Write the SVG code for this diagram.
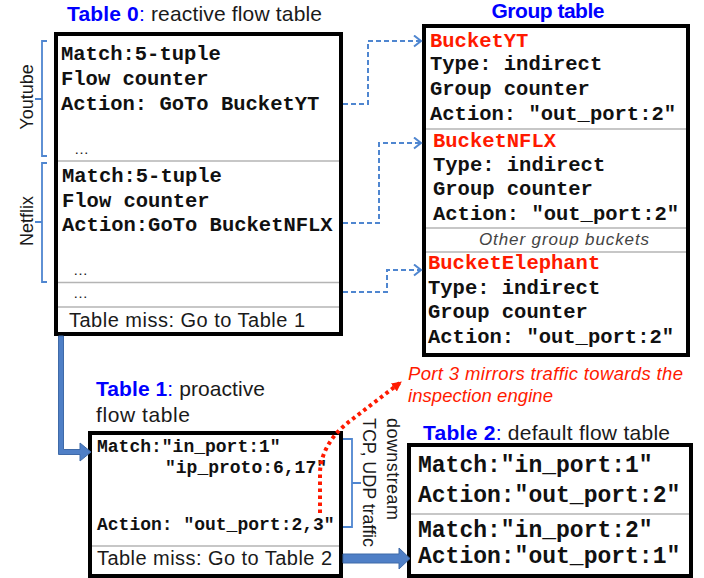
<svg xmlns="http://www.w3.org/2000/svg" width="704" height="578" viewBox="0 0 704 578">
<style>
.box{fill:#fff;stroke:#000;stroke-width:4}
.div{stroke:#b4b4b4;stroke-width:1.5}
.mono{font-family:"Liberation Mono","Courier New",monospace;font-weight:bold;fill:#111}
.m20{font-size:20.5px}
.m18{font-size:18px}
.m23{font-size:23px}
.sans{font-family:"Liberation Sans",Arial,sans-serif;fill:#1a1a1a}
.hdr{font-size:21px}
.blue{fill:#0000ff}
.b{font-weight:bold}
.red{fill:#ff1a00}
.brk{fill:none;stroke:#4f86d0;stroke-width:1.8}
.dash{fill:none;stroke:#4f86d0;stroke-width:2;stroke-dasharray:5 3}
.thick{fill:#4f7fc6;stroke:#3f6aa8;stroke-width:1}
</style>
<defs>
<marker id="chev" markerUnits="userSpaceOnUse" markerWidth="12" markerHeight="14" refX="8" refY="6" orient="auto">
<path d="M1,0.5 L8,6 L1,11.5" fill="none" stroke="#4f86d0" stroke-width="2"/>
</marker>
<marker id="redhead" markerUnits="userSpaceOnUse" markerWidth="12" markerHeight="12" refX="9" refY="5" orient="auto">
<path d="M0,0 L10,5 L0,10 z" fill="#ff1a00"/>
</marker>
</defs>

<!-- headers -->
<g id="labels">
<text class="sans hdr" x="67" y="21" textLength="255"><tspan class="blue b">Table 0</tspan><tspan class="blue">:</tspan> reactive flow table</text>
<text class="sans hdr blue b" x="548" y="18" text-anchor="middle" textLength="113">Group table</text>
<text class="sans hdr" x="96" y="396" textLength="169"><tspan class="blue b">Table 1</tspan><tspan class="blue">:</tspan> proactive</text>
<text class="sans hdr" x="96" y="422" textLength="94">flow table</text>
<text class="sans hdr" x="423" y="440" textLength="247"><tspan class="blue b">Table 2</tspan><tspan class="blue">:</tspan> default flow table</text>
<text class="sans" font-size="18" transform="translate(33,97) rotate(-90)" text-anchor="middle">Youtube</text>
<text class="sans" font-size="18" transform="translate(33,221) rotate(-90)" text-anchor="middle">Netflix</text>
<text class="sans" font-size="18" transform="translate(387,418) rotate(90)" textLength="102">downstream</text>
<text class="sans" font-size="18" transform="translate(363,418) rotate(90)" textLength="129">TCP, UDP traffic</text>
<text class="sans red" font-size="18.5" font-style="italic" x="408" y="380" textLength="275">Port 3 mirrors traffic towards the</text>
<text class="sans red" font-size="18.5" font-style="italic" x="408" y="402" textLength="145">inspection engine</text>
<path class="brk" d="M47,41 H42 V156 H47 M42,99 H35"/>
<path class="brk" d="M47,163 H42 V282 H47 M42,222 H35"/>
<path class="brk" d="M343,439 H352 V527 H343 M352,483 H361"/>
</g>

<g id="table0">
<rect class="box" x="56" y="34" width="285" height="300"/>
<line class="div" x1="58" y1="161" x2="339" y2="161"/>
<line class="div" x1="58" y1="282.5" x2="339" y2="282.5"/>
<line class="div" x1="58" y1="307" x2="339" y2="307"/>
<text class="mono m20" x="61" y="60">Match:5-tuple</text>
<text class="mono m20" x="61" y="85">Flow counter</text>
<text class="mono m20" x="61" y="110">Action: GoTo BucketYT</text>
<text class="sans" font-size="15" x="74" y="154">…</text>
<text class="mono m20" x="62" y="182">Match:5-tuple</text>
<text class="mono m20" x="62" y="207">Flow counter</text>
<text class="mono m20" x="62" y="231">Action:GoTo BucketNFLX</text>
<text class="sans" font-size="15" x="73" y="275">…</text>
<text class="sans" font-size="15" x="73" y="298">…</text>
<text class="sans" font-size="20" x="69" y="327" textLength="236">Table miss: Go to Table 1</text>
</g>

<g id="group-table">
<rect class="box" x="424" y="26" width="264" height="329"/>
<line class="div" x1="426" y1="129" x2="686" y2="129"/>
<line class="div" x1="426" y1="228" x2="686" y2="228"/>
<line class="div" x1="426" y1="252" x2="686" y2="252"/>
<text class="mono m20 red" x="430" y="47">BucketYT</text>
<text class="mono m20" x="430" y="70">Type: indirect</text>
<text class="mono m20" x="430" y="95">Group counter</text>
<text class="mono m20" x="430" y="120">Action: "out_port:2"</text>
<text class="mono m20 red" x="433" y="147">BucketNFLX</text>
<text class="mono m20" x="433" y="171">Type: indirect</text>
<text class="mono m20" x="433" y="195">Group counter</text>
<text class="mono m20" x="433" y="220">Action: "out_port:2"</text>
<text class="sans" font-size="17" font-style="italic" x="564" y="245" text-anchor="middle" textLength="170" style="fill:#444">Other group buckets</text>
<text class="mono m20 red" x="428" y="269">BucketElephant</text>
<text class="mono m20" x="428" y="294">Type: indirect</text>
<text class="mono m20" x="428" y="318">Group counter</text>
<text class="mono m20" x="428" y="343">Action: "out_port:2"</text>
</g>

<g id="table1">
<rect class="box" x="90" y="433" width="251" height="143"/>
<line class="div" x1="92" y1="546" x2="339" y2="546"/>
<text class="mono m18" x="97" y="452">Match:"in_port:1"</text>
<text class="mono m18" x="165" y="473">"ip_proto:6,17"</text>
<text class="mono m18" x="97" y="530">Action: "out_port:2,3"</text>
<text class="sans" font-size="20" x="97" y="565" textLength="235">Table miss: Go to Table 2</text>
</g>

<g id="table2">
<rect class="box" x="409" y="445" width="282" height="131"/>
<line class="div" x1="411" y1="514" x2="689" y2="514"/>
<text class="mono m23" x="418" y="472">Match:"in_port:1"</text>
<text class="mono m23" x="418" y="502">Action:"out_port:2"</text>
<text class="mono m23" x="418" y="537">Match:"in_port:2"</text>
<text class="mono m23" x="418" y="563">Action:"out_port:1"</text>
</g>

<g id="connectors">
<path class="dash" d="M343,104 H368 V41 H421" marker-end="url(#chev)"/>
<path class="dash" d="M343,223 H379 V143 H421" marker-end="url(#chev)"/>
<path class="dash" d="M343,292 H387 V270 H421" marker-end="url(#chev)"/>
<path class="thick" d="M58.5,336 H63.5 V449.5 H80 V443 L91,452 L80,461 V454.5 H58.5 Z"/>
<path class="thick" d="M343,554 H399 V548 L410,558.5 L399,569 V563 H343 Z"/>
<path d="M320,513 L320,472 C321,450 335,432 350,421 L401,382" fill="none" stroke="#ff1a00" stroke-width="4" stroke-dasharray="3.5 3.5" marker-end="url(#redhead)"/>
</g>
</svg>
